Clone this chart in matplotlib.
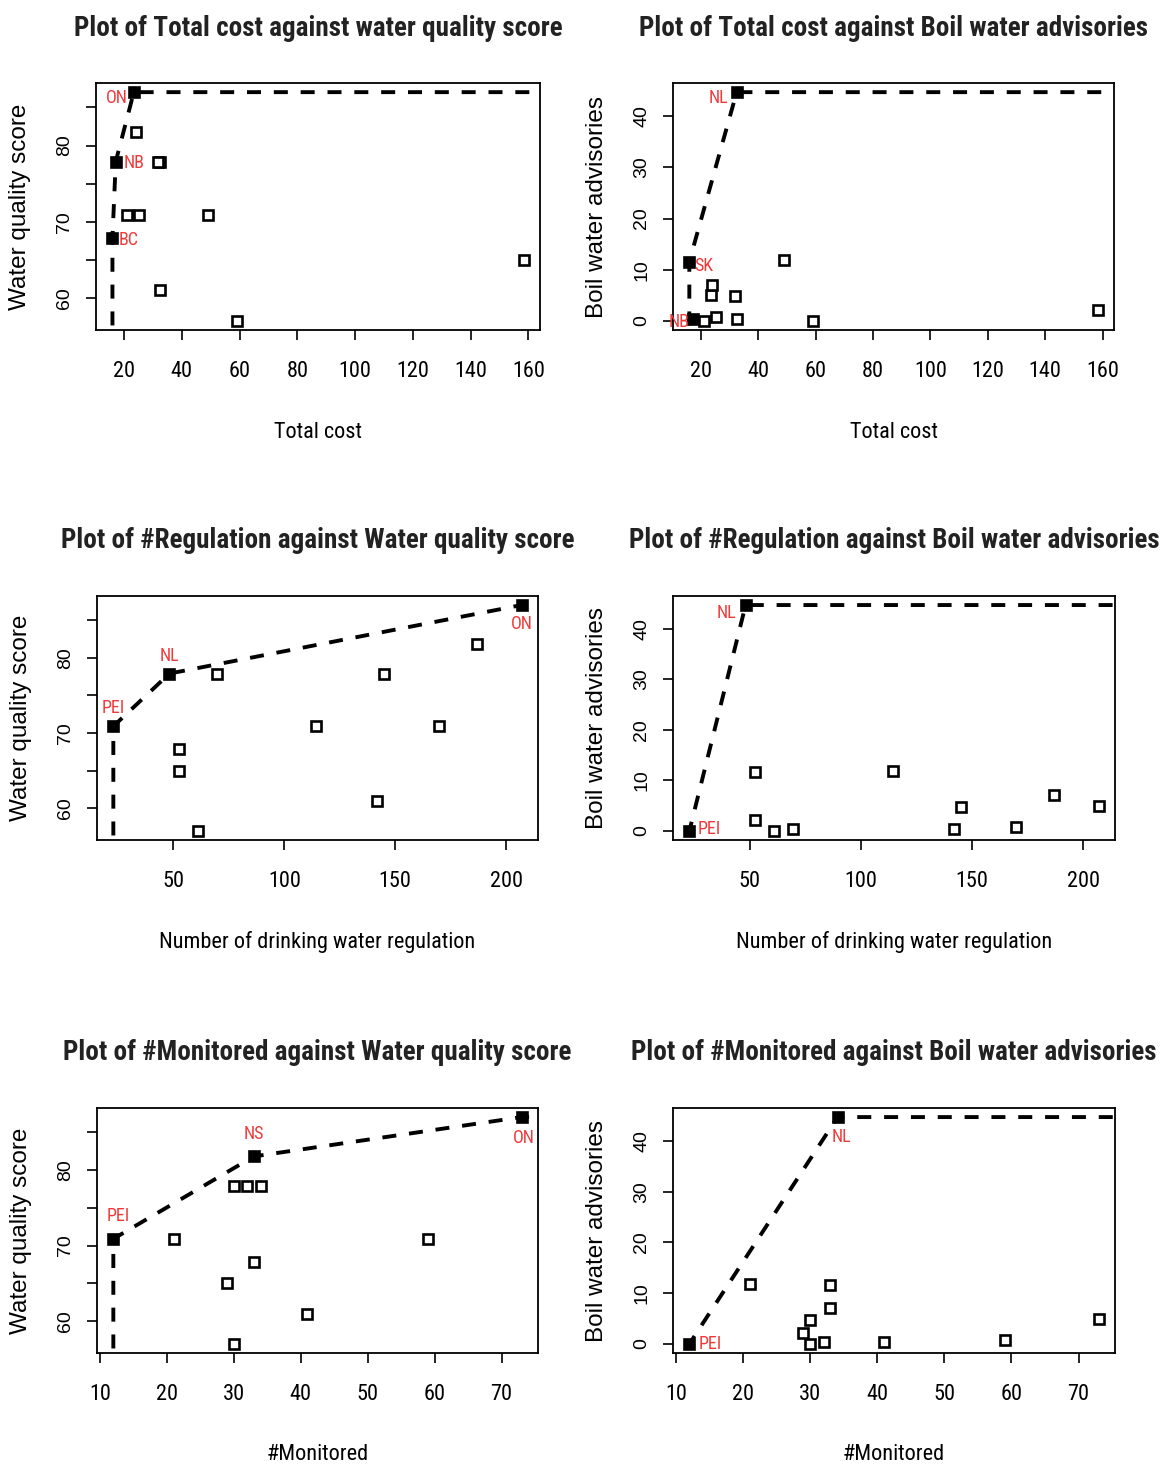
import matplotlib
matplotlib.use("Agg")
import matplotlib.pyplot as plt
from matplotlib import font_manager
import numpy as np

# values (12 provinces / territories)
total_cost = [23.4, 24.0, 32.5, 17.15, 31.8, 21.1, 49.1, 25.3, 16.0, 158.3, 32.5, 59.0]
quality    = [87.0, 81.8, 77.9, 77.9, 77.9, 70.9, 70.9, 70.9, 67.9, 65.0, 61.0, 57.0]
boil       = [5.0, 7.1, 44.7, 0.3, 4.8, 0.0, 11.8, 0.7, 11.6, 2.1, 0.4, 0.0]
regulation = [207.0, 186.8, 48.2, 69.5, 145.0, 22.9, 114.3, 169.8, 52.5, 52.5, 142.0, 61.0]
monitored  = [73.0, 33.0, 34.1, 32.0, 30.0, 12.0, 21.0, 59.0, 33.0, 29.0, 41.0, 30.0]

# frontier units (index order) and red labels per panel
front_1 = [8, 3, 0]
labels_1 = {0: "ON", 3: "NB", 8: "BC"}
front_2 = [8, 2]
labels_2 = {2: "NL", 8: "SK", 3: "NB"}
front_3 = [5, 2, 0]
labels_3 = {5: "PEI", 2: "NL", 0: "ON"}
front_4 = [5, 2]
labels_4 = {2: "NL", 5: "PEI"}
front_5 = [5, 1, 0]
labels_5 = {5: "PEI", 1: "NS", 0: "ON"}
front_6 = [5, 2]
labels_6 = {2: "NL", 5: "PEI"}

names = {f.name for f in font_manager.fontManager.ttflist}
narrow = next((n for n in ["Liberation Sans Narrow", "Roboto Condensed",
                           "Open Sans Condensed", "Liberation Sans"] if n in names), "DejaVu Sans")
regular = "Liberation Sans" if "Liberation Sans" in names else "DejaVu Sans"

W, H = 1163, 1467
fig = plt.figure(figsize=(W / 100, H / 100), dpi=100)

# (left, right, top, bottom) of each plot box in pixels
boxes = [(96, 540, 83, 330), (673, 1114, 83, 330),
         (97, 538, 596, 840), (673, 1115, 596, 840),
         (97, 538, 1108, 1353), (673, 1115, 1108, 1353)]

panels = [
    (total_cost, quality, front_1, labels_1, "Plot of Total cost against water quality score",
     "Total cost", "Water quality score", np.arange(20, 161, 20)),
    (total_cost, boil, front_2, labels_2, "Plot of Total cost against Boil water advisories",
     "Total cost", "Boil water advisories", np.arange(20, 161, 20)),
    (regulation, quality, front_3, labels_3, "Plot of #Regulation against Water quality score",
     "Number of drinking water regulation", "Water quality score", np.arange(50, 201, 50)),
    (regulation, boil, front_4, labels_4, "Plot of #Regulation against Boil water advisories",
     "Number of drinking water regulation", "Boil water advisories", np.arange(50, 201, 50)),
    (monitored, quality, front_5, labels_5, "Plot of #Monitored against Water quality score",
     "#Monitored", "Water quality score", np.arange(10, 71, 10)),
    (monitored, boil, front_6, labels_6, "Plot of #Monitored against Boil water advisories",
     "#Monitored", "Boil water advisories", np.arange(10, 71, 10)),
]

# label offsets in pixels (dx, dy up) and alignment
offsets = [
    {0: (-6, -6, "right"), 3: (8, -1, "left"), 8: (6, -2, "left")},
    {2: (-8, -6, "right"), 8: (5, -4, "left"), 3: (-3, -3, "right")},
    {5: (0, 18, "center"), 2: (0, 18, "center"), 0: (0, -19, "center")},
    {2: (-9, -8, "right"), 5: (8, 2, "left")},
    {5: (5, 23, "center"), 1: (0, 22, "center"), 0: (2, -21, "center")},
    {2: (-6, -20, "left"), 5: (9, 0, "left")},
]

for (l, r, t, b), (xs, ys, front, labs, title, xlab, ylab, xt), offs in zip(boxes, panels, offsets):
    ax = fig.add_axes([l / W, 1 - b / H, (r - l) / W, (b - t) / H])
    xs = np.array(xs)
    ys = np.array(ys)
    # R style 4% padding
    xr = xs.max() - xs.min()
    yr = ys.max() - ys.min()
    x0, x1 = xs.min() - 0.04 * xr, xs.max() + 0.04 * xr
    y0, y1 = ys.min() - 0.04 * yr, ys.max() + 0.04 * yr
    ax.set_xlim(x0, x1)
    ax.set_ylim(y0, y1)

    ax.plot(xs, ys, linestyle="none", marker="s", markersize=6.5,
            markerfacecolor="white", markeredgecolor="black", markeredgewidth=1.9)

    fx = [xs[front[0]]] + list(xs[front]) + [x1]
    fy = [y0 + 0.02 * yr] + list(ys[front]) + [ys[front[-1]]]
    ax.plot(fx, fy, color="black", lw=2.8, linestyle=(0, (3.6, 3.3)))
    pts = sorted(set(front) | set(labs))
    ax.plot(xs[pts], ys[pts], linestyle="none", marker="o", markersize=7, color="black")

    for i, name in labs.items():
        dx, dy, ha = offs[i]
        ax.annotate(name, (xs[i], ys[i]), xytext=(dx * 0.72, dy * 0.72),
                    textcoords="offset points", ha=ha, va="center",
                    color="#f03a3a", fontsize=13, family=narrow, annotation_clip=False)

    ax.set_xticks(xt)
    ax.set_xticklabels([str(v) for v in xt], family=narrow, fontsize=16)
    if ys.max() > 50:
        yt = np.arange(60, 86, 5)
        ax.set_yticks(yt)
        ax.set_yticklabels([str(v) if v % 10 == 0 else "" for v in yt], family=regular, fontsize=14)
    else:
        yt = np.arange(0, 41, 10)
        ax.set_yticks(yt)
        ax.set_yticklabels([str(v) for v in yt], family=regular, fontsize=14)
    ax.tick_params(axis="both", direction="out", length=7.5, width=1.2, color="black")
    ax.tick_params(axis="x", pad=15)
    ax.tick_params(axis="y", pad=9, labelrotation=90)
    for lab in ax.get_yticklabels():
        lab.set_va("center")
    for s in ax.spines.values():
        s.set_linewidth(1.3)

    bw, bh = r - l, b - t
    ax.set_xlabel(xlab, family=narrow, fontsize=16, va="center")
    ax.xaxis.set_label_coords(0.5, -102 / bh)
    ax.set_ylabel(ylab, family=regular, fontsize=17.5, va="center")
    ax.yaxis.set_label_coords(-76 / bw, 0.5)
    ax.text(0.5, 1 + 55 / bh, title, transform=ax.transAxes, ha="center", va="center",
            family=narrow, fontweight="bold", fontsize=19.5, color="#222222")

fig.savefig("out.png", dpi=100)
